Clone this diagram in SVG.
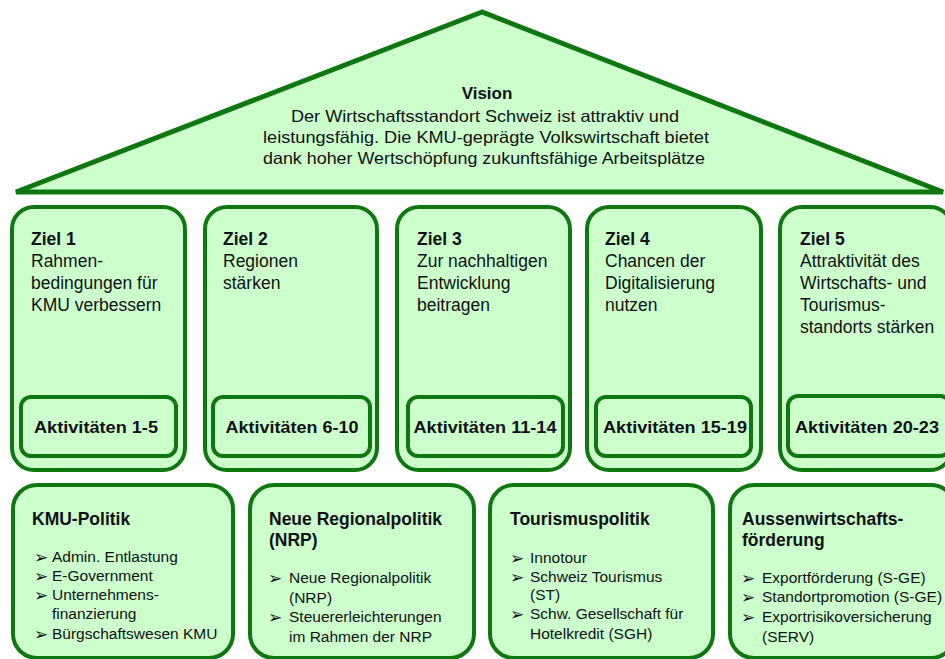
<svg xmlns="http://www.w3.org/2000/svg" width="945" height="659" viewBox="0 0 945 659">
<style>
.box{fill:#ccffcc;stroke:#0f770f;stroke-width:4}
.roof{fill:#ccffcc;stroke:#0f770f;stroke-width:5;stroke-linejoin:miter}
text{font-family:"Liberation Sans",Arial,sans-serif;fill:#111}
.b{font-weight:bold}
.vt{font-size:16.5px}
.vh{font-size:17px;font-weight:bold}
.zt{font-size:17.5px}
.akt{font-size:17px;font-weight:bold}
.tt{font-size:17.5px;font-weight:bold}
.bt{font-size:15.5px}
.ar{font-size:17px;font-family:"DejaVu Sans",sans-serif}
</style>
<rect width="945" height="659" fill="#ffffff"/>
<g id="vision">
<polygon class="roof" points="482,12 16,192 943,192"/>
<text class="vh" x="487" y="99" text-anchor="middle">Vision</text>
<text class="vt" x="485" y="122" text-anchor="middle" textLength="388" lengthAdjust="spacingAndGlyphs">Der Wirtschaftsstandort  Schweiz ist attraktiv und</text>
<text class="vt" x="486" y="143" text-anchor="middle" textLength="446" lengthAdjust="spacingAndGlyphs">leistungsfähig. Die KMU-geprägte Volkswirtschaft bietet</text>
<text class="vt" x="484" y="164" text-anchor="middle" textLength="442" lengthAdjust="spacingAndGlyphs">dank hoher Wertschöpfung zukunftsfähige  Arbeitsplätze</text>
</g>
<g id="ziel1">
<rect class="box" x="12" y="207" width="173" height="263" rx="22"/>
<text class="zt b" x="31" y="245">Ziel 1</text>
<text class="zt" x="31" y="267">Rahmen-</text>
<text class="zt" x="31" y="289">bedingungen für</text>
<text class="zt" x="31" y="311">KMU verbessern</text>
<rect class="box" x="21" y="397" width="155" height="59" rx="10"/>
<text class="akt" x="96" y="433" text-anchor="middle" textLength="124" lengthAdjust="spacingAndGlyphs">Aktivitäten  1-5</text>
</g>
<g id="ziel2">
<rect class="box" x="205" y="207" width="172" height="263" rx="22"/>
<text class="zt b" x="223" y="245">Ziel 2</text>
<text class="zt" x="223" y="267">Regionen</text>
<text class="zt" x="223" y="289">stärken</text>
<rect class="box" x="213" y="397" width="157" height="59" rx="10"/>
<text class="akt" x="292" y="433" text-anchor="middle" textLength="133" lengthAdjust="spacingAndGlyphs">Aktivitäten  6-10</text>
</g>
<g id="ziel3">
<rect class="box" x="397" y="207" width="173" height="263" rx="22"/>
<text class="zt b" x="417" y="245">Ziel 3</text>
<text class="zt" x="417" y="267">Zur nachhaltigen</text>
<text class="zt" x="417" y="289">Entwicklung</text>
<text class="zt" x="417" y="311">beitragen</text>
<rect class="box" x="408" y="397" width="155" height="59" rx="10"/>
<text class="akt" x="485" y="433" text-anchor="middle" textLength="143" lengthAdjust="spacingAndGlyphs">Aktivitäten  11-14</text>
</g>
<g id="ziel4">
<rect class="box" x="587" y="207" width="174" height="263" rx="22"/>
<text class="zt b" x="605" y="245">Ziel 4</text>
<text class="zt" x="605" y="267">Chancen der</text>
<text class="zt" x="605" y="289">Digitalisierung</text>
<text class="zt" x="605" y="311">nutzen</text>
<rect class="box" x="596" y="397" width="155" height="59" rx="10"/>
<text class="akt" x="675" y="433" text-anchor="middle" textLength="144" lengthAdjust="spacingAndGlyphs">Aktivitäten  15-19</text>
</g>
<g id="ziel5">
<rect class="box" x="780" y="207" width="172" height="263" rx="22"/>
<text class="zt b" x="800" y="245">Ziel 5</text>
<text class="zt" x="800" y="267">Attraktivität des</text>
<text class="zt" x="800" y="289">Wirtschafts- und</text>
<text class="zt" x="800" y="311">Tourismus-</text>
<text class="zt" x="800" y="333">standorts stärken</text>
<rect class="box" x="788" y="396" width="162" height="60" rx="10"/>
<text class="akt" x="867" y="433" text-anchor="middle" textLength="144" lengthAdjust="spacingAndGlyphs">Aktivitäten  20-23</text>
</g>
<g id="kmu">
<rect class="box" x="13" y="485" width="220" height="173" rx="24"/>
<text class="tt" x="32" y="525">KMU-Politik</text>
<text class="ar" x="34" y="563">➢</text><text class="bt" x="52" y="562">Admin. Entlastung</text>
<text class="ar" x="34" y="582">➢</text><text class="bt" x="52" y="581">E-Government</text>
<text class="ar" x="34" y="601">➢</text><text class="bt" x="52" y="600">Unternehmens-</text>
<text class="bt" x="52" y="619">finanzierung</text>
<text class="ar" x="34" y="640">➢</text><text class="bt" x="52" y="639">Bürgschaftswesen KMU</text>
</g>
<g id="nrp">
<rect class="box" x="250" y="485" width="224" height="173" rx="24"/>
<text class="tt" x="269" y="525">Neue Regionalpolitik</text>
<text class="tt" x="269" y="546">(NRP)</text>
<text class="ar" x="268" y="584">➢</text><text class="bt" x="289" y="583">Neue Regionalpolitik</text>
<text class="bt" x="289" y="603">(NRP)</text>
<text class="ar" x="268" y="623">➢</text><text class="bt" x="289" y="622">Steuererleichterungen</text>
<text class="bt" x="289" y="642">im Rahmen der NRP</text>
</g>
<g id="tourismus">
<rect class="box" x="490" y="485" width="223" height="173" rx="24"/>
<text class="tt" x="510" y="525">Tourismuspolitik</text>
<text class="ar" x="510" y="564">➢</text><text class="bt" x="530" y="563">Innotour</text>
<text class="ar" x="510" y="583">➢</text><text class="bt" x="530" y="582">Schweiz Tourismus</text>
<text class="bt" x="530" y="600">(ST)</text>
<text class="ar" x="510" y="620">➢</text><text class="bt" x="530" y="619">Schw. Gesellschaft für</text>
<text class="bt" x="530" y="639">Hotelkredit (SGH)</text>
</g>
<g id="aussen">
<rect class="box" x="730" y="485" width="225" height="173" rx="24"/>
<text class="tt" x="742" y="525">Aussenwirtschafts-</text>
<text class="tt" x="742" y="546">förderung</text>
<text class="ar" x="741" y="584">➢</text><text class="bt" x="762" y="583">Exportförderung (S-GE)</text>
<text class="ar" x="741" y="603">➢</text><text class="bt" x="762" y="602">Standortpromotion (S-GE)</text>
<text class="ar" x="741" y="623">➢</text><text class="bt" x="762" y="622">Exportrisikoversicherung</text>
<text class="bt" x="762" y="642">(SERV)</text>
</g>
<g id="connectors"></g>
</svg>
